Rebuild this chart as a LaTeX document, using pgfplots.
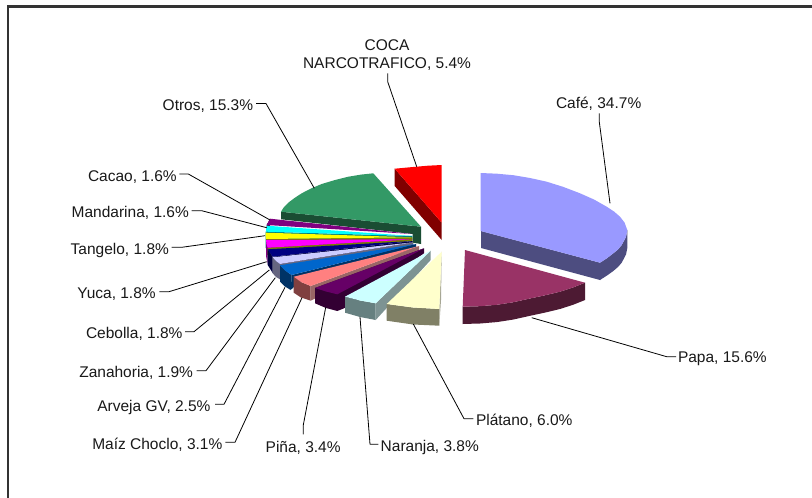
\documentclass[border=0pt]{standalone}
\usepackage{fontspec}
\setmainfont{Liberation Sans}
\usepackage{pgfplots}
\pgfplotsset{compat=1.18}
\definecolor{cafeT}{HTML}{9999FF}\definecolor{cafeS}{HTML}{4D4D80}
\definecolor{papaT}{HTML}{993366}\definecolor{papaS}{HTML}{4D1A33}
\definecolor{platT}{HTML}{FFFFCC}\definecolor{platS}{HTML}{808066}
\definecolor{naraT}{HTML}{CCFFFF}\definecolor{naraS}{HTML}{668080}
\definecolor{pinaT}{HTML}{660066}\definecolor{pinaS}{HTML}{330033}
\definecolor{maizT}{HTML}{FF8080}\definecolor{maizS}{HTML}{804040}
\definecolor{arveT}{HTML}{0066CC}\definecolor{arveS}{HTML}{003366}
\definecolor{zanaT}{HTML}{CCCCFF}\definecolor{zanaS}{HTML}{666680}
\definecolor{cebT}{HTML}{000080}\definecolor{cebS}{HTML}{000040}
\definecolor{yucaT}{HTML}{FF00FF}\definecolor{yucaS}{HTML}{800080}
\definecolor{tangT}{HTML}{FFFF00}\definecolor{tangS}{HTML}{808000}
\definecolor{mandT}{HTML}{00FFFF}\definecolor{mandS}{HTML}{008080}
\definecolor{cacaT}{HTML}{800080}\definecolor{cacaS}{HTML}{400040}
\definecolor{otroT}{HTML}{339966}\definecolor{otroS}{HTML}{1A4D33}
\definecolor{cocaT}{HTML}{FF0000}\definecolor{cocaS}{HTML}{800000}
\definecolor{frameC}{HTML}{333333}
\tikzset{lab/.style={font=\fontsize{15.5}{18}\selectfont,text=black!90,inner sep=0pt,outer sep=0pt}}
\pgfplotsset{
 f/.style={fill=#1,draw=none},
 lead/.style={black,line width=0.8pt,line join=round},
}
\begin{document}
\begin{tikzpicture}
\begin{axis}[scale only axis,width=812pt,height=498pt,xmin=0,xmax=812,ymin=0,ymax=498,
 y dir=reverse,hide axis]
\addplot[f=white] coordinates {(0,0)(812,0)(812,498)(0,498)} --cycle;
\addplot[frameC,line width=2.4pt] coordinates {(8,498)(8,6.5)(812,6.5)};
% Coca
\addplot[f=cocaS] coordinates {(394.7,168.7)(441.7,222.7)(441.7,240)(394.7,186)} --cycle;
\addplot[f=cocaT] coordinates {(394.7,168.7)(413,167)(428,165.7)(441.7,165)(441.7,222.7)} --cycle;
% Cafe
\addplot[f=cafeS] coordinates {(481,231)(600,262.7)(600,280)(481,248)} --cycle;
\addplot[f=cafeS] coordinates {(600,262.7)(607,258.2)(613.3,253.3)(618,249.5)(621.7,245)(626,237)(627.3,230)(627.3,248)(626,254.5)(621.7,262.7)(618,267)(613.3,271)(607,275.5)(600,280)} --cycle;
\addplot[f=cafeT] coordinates {(480.7,173)(497,173.7)(513.3,175.2)(530,178)(546.7,181.7)(563,186.8)(580,193.3)(594,199.5)(606.7,206.7)(614,211.5)(620,216.7)(624.5,222.5)(627.3,230)(626,237)(621.7,245)(618,249.5)(613.3,253.3)(607,258.2)(600,262.7)(480.7,231)} --cycle;
% Papa
\addplot[f=papaS] coordinates {(462.7,306.7)(480,306.2)(496.7,304.8)(513,302.3)(530,298.5)(545,295.3)(560,291.7)(573,287.5)(585,282.7)(585,300)(573,304.8)(560,309)(545,312.6)(530,315.8)(513,319.6)(496.7,322.1)(480,323.5)(462.7,324)} --cycle;
\addplot[f=papaT] coordinates {(465,250)(585,282.7)(573,287.5)(560,291.7)(545,295.3)(530,298.5)(513,302.3)(496.7,304.8)(480,306.2)(462.7,306.7)} --cycle;
% Otros
\addplot[f=otroS] coordinates {(281,211.7)(421,226.7)(421,244)(412.7,242.7)(412.7,234)(281,219.3)} --cycle;
\addplot[f=otroT] coordinates {(421,226.7)(373.3,173.3)(361,174.6)(348.3,176.7)(335,180)(321.7,184)(311,188.5)(301.7,193.3)(294.5,198)(288.3,202.7)(284,207)(281,211.7)} --cycle;
% Cacao
\addplot[f=cacaS] coordinates {(270,218.7)(266.7,225)(266.7,240)(270,235)} --cycle;
\addplot[f=cacaT] coordinates {(412.3,234)(270,218.7)(266.7,225)} --cycle;
% Mandarina
\addplot[f=mandS] coordinates {(412.3,236)(265.7,231.7)(265.7,248)(412.3,240)} --cycle;
\addplot[f=mandT] coordinates {(412.3,236)(266.7,225.7)(265.9,231.7)} --cycle;
% Tangelo
\addplot[f=tangS] coordinates {(412.3,237.3)(266,239)(266,255)(412.3,241)} --cycle;
\addplot[f=tangT] coordinates {(412.3,237.3)(265.7,232.7)(265.6,236)(266,239)} --cycle;
% Yuca
\addplot[f=yucaS] coordinates {(412.3,239.3)(267.7,247.7)(267.7,264)(266,256)(266,240)} --cycle;
\addplot[f=yucaT] coordinates {(412.3,239.3)(266,240)(266.5,244)(267.7,247.7)} --cycle;
% Cebolla
\addplot[f=cebS] coordinates {(267.7,249.3)(272.7,256.7)(272.7,273)(267.7,265)} --cycle;
\addplot[f=cebS] coordinates {(412.7,241)(272.7,256.7)(272.7,273)(280,266)(412.7,245)} --cycle;
\addplot[f=cebT] coordinates {(412.7,241)(267.7,249.3)(270,253)(272.7,256.7)} --cycle;
% Zanahoria
\addplot[f=zanaS] coordinates {(272.7,257.3)(276,261)(280,264)(280,279.3)(276,277)(272.7,273.3)} --cycle;
\addplot[f=zanaS] coordinates {(413.3,242.3)(280,264)(280,279.3)(286,273)(413.3,246.5)} --cycle;
\addplot[f=zanaT] coordinates {(413.3,242.3)(272.7,257.3)(276,261)(280,264)} --cycle;
% Arveja
\addplot[f=arveS] coordinates {(280,265.3)(285,270.5)(291.7,275)(290.7,290)(285,286.5)(280,281.7)} --cycle;
\addplot[f=arveS] coordinates {(416,244)(291.7,275)(290.7,290)(298,283)(416,248.5)} --cycle;
\addplot[f=arveT] coordinates {(416,244)(280,265.3)(285,270.5)(291.7,275)} --cycle;
% Maiz
\addplot[f=maizS] coordinates {(293.7,276.7)(301,282)(310.7,286)(310.7,300.7)(301,297.5)(293.7,292.7)} --cycle;
\addplot[f=maizS!80!white] coordinates {(419,246)(310.7,286)(310.7,300.7)(318,297)(419,251)} --cycle;
\addplot[f=maizT] coordinates {(419,246)(293.7,276.7)(301,282)(310.7,286)} --cycle;
% Pina
\addplot[f=pinaS] coordinates {(424,248.3)(315,288)(315,303.3)(326,308)(337.3,311)(344,308.3)(424,253.3)} --cycle;
\addplot[f=pinaT] coordinates {(424,248.3)(315,288)(326,291.5)(337.3,294.3)} --cycle;
% Naranja
\addplot[f=naraS] coordinates {(345,296.7)(360,300.5)(375.7,303.3)(375.7,320)(360,317)(345,312.7)} --cycle;
\addplot[f=naraS!85!white] coordinates {(430.7,250.7)(375.7,303.3)(375.7,320)(430.7,260)} --cycle;
\addplot[f=naraT] coordinates {(430.7,250.7)(345,296.7)(360,300.5)(375.7,303.3)} --cycle;
% Platano
\addplot[f=platS] coordinates {(386.7,304)(413,307.5)(439.3,309)(439.3,325.7)(413,324.5)(386.7,320.7)} --cycle;
\addplot[f=platS!70!white] coordinates {(441.7,251.7)(439.3,309)(439.3,325.7)(441,300)} --cycle;
\addplot[f=platT] coordinates {(441.7,251.7)(386.7,304)(413,307.5)(439.3,309)} --cycle;
% leaders
\addplot[lead] coordinates {(599.3,113.3)(599.3,122)(610,203.3)};
\addplot[lead] coordinates {(531.7,317.7)(666.7,356.7)(676,356.7)};
\addplot[lead] coordinates {(413.3,324)(464,418.7)(473.3,418.7)};
\addplot[lead] coordinates {(360,317)(370,444.3)(378.3,444.3)};
\addplot[lead] coordinates {(325.7,307.3)(303.3,425)(303.3,434.3)};
\addplot[lead] coordinates {(302,297.7)(235,442.3)(225.3,442.3)};
\addplot[lead] coordinates {(285,287.3)(224,404.3)(215,404.3)};
\addplot[lead] coordinates {(275.3,277.7)(206,370.7)(196.7,370.7)};
\addplot[lead] coordinates {(269.3,270)(194,331.7)(185,331.7)};
\addplot[lead] coordinates {(266.7,261.7)(169,291.7)(159.3,291.7)};
\addplot[lead] coordinates {(265,235.7)(181.7,247.3)(171.7,247.3)};
\addplot[lead] coordinates {(266.7,227.7)(201.7,210.7)(191.7,210.7)};
\addplot[lead] coordinates {(270,220)(188.3,174)(179.3,174)};
\addplot[lead] coordinates {(314.3,188.3)(266,103.5)(256,103.5)};
\addplot[lead] coordinates {(416.7,166.7)(387.7,81.7)(387.7,73.3)};
% labels
\node[lab,anchor=base west] at (axis cs:556,108.3) {Café, 34.7\%};
\node[lab,anchor=base west] at (axis cs:678,362.7) {Papa, 15.6\%};
\node[lab,anchor=base west] at (axis cs:476,425.7) {Plátano, 6.0\%};
\node[lab,anchor=base west] at (axis cs:380.7,451) {Naranja, 3.8\%};
\node[lab,anchor=base west] at (axis cs:265.7,452) {Piña, 3.4\%};
\node[lab,anchor=base west] at (axis cs:92.3,449.3) {Maíz Choclo, 3.1\%};
\node[lab,anchor=base west] at (axis cs:97.3,411) {Arveja GV, 2.5\%};
\node[lab,anchor=base west] at (axis cs:79.3,377) {Zanahoria, 1.9\%};
\node[lab,anchor=base west] at (axis cs:86,338.3) {Cebolla, 1.8\%};
\node[lab,anchor=base west] at (axis cs:77.3,298.3) {Yuca, 1.8\%};
\node[lab,anchor=base west] at (axis cs:70.7,254) {Tangelo, 1.8\%};
\node[lab,anchor=base west] at (axis cs:71.7,217.3) {Mandarina, 1.6\%};
\node[lab,anchor=base west] at (axis cs:88,181) {Cacao, 1.6\%};
\node[lab,anchor=base west] at (axis cs:162.7,110) {Otros, 15.3\%};
\node[lab,anchor=base] at (axis cs:387,50.3) {COCA};
\node[lab,anchor=base] at (axis cs:387,68.3) {NARCOTRAFICO, 5.4\%};
\end{axis}
\end{tikzpicture}
\end{document}
